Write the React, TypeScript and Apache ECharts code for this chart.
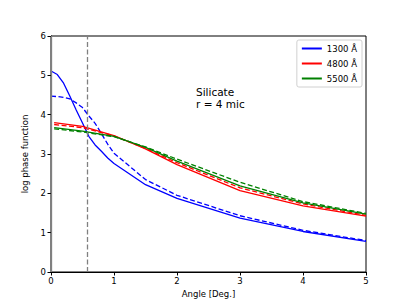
import React, { useEffect, useRef } from "react";
import * as echarts from "echarts";

const blueAngles = [0, 0.1, 0.2, 0.3, 0.4, 0.5, 0.6, 0.7, 0.8, 0.9, 1.0, 1.5, 2, 3, 4, 5];
const blueSolid = [5.11, 5.02, 4.8, 4.47, 4.12, 3.79, 3.45, 3.23, 3.07, 2.9, 2.76, 2.22, 1.87, 1.37, 1.03, 0.78];
const blueDashed = [4.47, 4.46, 4.44, 4.4, 4.3, 4.18, 3.97, 3.78, 3.52, 3.25, 3.02, 2.35, 1.95, 1.43, 1.06, 0.8];

const rgAngles = [0.05, 0.5, 1, 1.5, 2, 3, 4, 5];
const redSolid = [3.8, 3.7, 3.47, 3.13, 2.73, 2.07, 1.68, 1.42];
const redDashed = [3.75, 3.67, 3.46, 3.14, 2.78, 2.14, 1.73, 1.44];
const greenSolid = [3.67, 3.58, 3.45, 3.17, 2.82, 2.19, 1.76, 1.47];
const greenDashed = [3.64, 3.56, 3.44, 3.18, 2.87, 2.28, 1.79, 1.49];

const legendNames = ["1300 Å", "4800 Å", "5500 Å"];
const vLineAt = 0.575;

const FONT = "DejaVu Sans";

function pairs(xs: number[], ys: number[]) {
  return xs.map((x, i) => [x, ys[i]]);
}

export default function App() {
  const ref = useRef<HTMLDivElement>(null);
  useEffect(() => {
    const chart = echarts.init(ref.current!, null, { renderer: "svg" });
    const line = (name: string, color: string, data: number[][], dashed: boolean, extra: any = {}) => ({
      type: "line",
      name,
      data,
      showSymbol: false,
      symbol: "none",
      smooth: false,
      lineStyle: { color, width: 1.3, type: dashed ? [5, 2.5] : "solid" },
      itemStyle: { color },
      z: 3,
      ...extra,
    });
    chart.setOption({
      animation: false,
      textStyle: { fontFamily: FONT },
      grid: {
        left: 51,
        right: 41,
        top: 36,
        bottom: 33,
        show: true,
        borderColor: "#000",
        borderWidth: 1,
        backgroundColor: "transparent",
      },
      xAxis: {
        type: "value",
        min: 0,
        max: 5,
        interval: 1,
        name: "Angle [Deg.]",
        nameLocation: "middle",
        nameGap: 16,
        nameTextStyle: { fontFamily: FONT, fontSize: 8.5, color: "#000" },
        axisLine: { show: true, lineStyle: { color: "#000", width: 1 } },
        axisTick: { show: true, length: 3.5, lineStyle: { color: "#000" } },
        axisLabel: { fontFamily: FONT, fontSize: 8.5, color: "#000", margin: 4 },
        splitLine: { show: false },
      },
      yAxis: {
        type: "value",
        min: 0,
        max: 6,
        interval: 1,
        name: "log phase function",
        nameLocation: "middle",
        nameGap: 17,
        nameRotate: 90,
        nameTextStyle: { fontFamily: FONT, fontSize: 8.5, color: "#000" },
        axisLine: { show: true, lineStyle: { color: "#000", width: 1 } },
        axisTick: { show: true, length: 3.5, lineStyle: { color: "#000" } },
        axisLabel: { fontFamily: FONT, fontSize: 8.5, color: "#000", margin: 5 },
        splitLine: { show: false },
      },
      legend: {
        data: legendNames,
        orient: "vertical",
        right: 45,
        top: 40,
        itemWidth: 20,
        itemHeight: 2,
        itemGap: 6,
        icon: "rect",
        backgroundColor: "#fff",
        borderColor: "#d0d0d0",
        borderWidth: 1,
        borderRadius: 2,
        padding: [4, 5, 4, 5],
        textStyle: { fontFamily: FONT, fontSize: 8.5, color: "#000" },
      },
      graphic: [
        {
          type: "text",
          left: 196,
          top: 86,
          style: {
            text: "Silicate\nr = 4 mic",
            fontFamily: FONT,
            fontSize: 10.5,
            lineHeight: 12,
            fill: "#000",
          },
        },
      ],
      series: [
        line(legendNames[0], "#0000ff", pairs(blueAngles, blueSolid), false, {
          markLine: {
            silent: true,
            symbol: "none",
            label: { show: false },
            data: [
              { xAxis: 0, lineStyle: { color: "#808080", type: "solid", width: 1.3 } },
              { xAxis: vLineAt, lineStyle: { color: "#808080", type: [5, 2.5], width: 1.3 } },
            ],
          },
        }),
        line("1300 dashed", "#0000ff", pairs(blueAngles, blueDashed), true),
        line(legendNames[1], "#ff0000", pairs(rgAngles, redSolid), false),
        line("4800 dashed", "#ff0000", pairs(rgAngles, redDashed), true),
        line(legendNames[2], "#008000", pairs(rgAngles, greenSolid), false),
        line("5500 dashed", "#008000", pairs(rgAngles, greenDashed), true),
      ],
    });
    return () => chart.dispose();
  }, []);
  return <div ref={ref} style={{ width: 407, height: 305, position: "absolute", left: 0, top: 0 }} />;
}
